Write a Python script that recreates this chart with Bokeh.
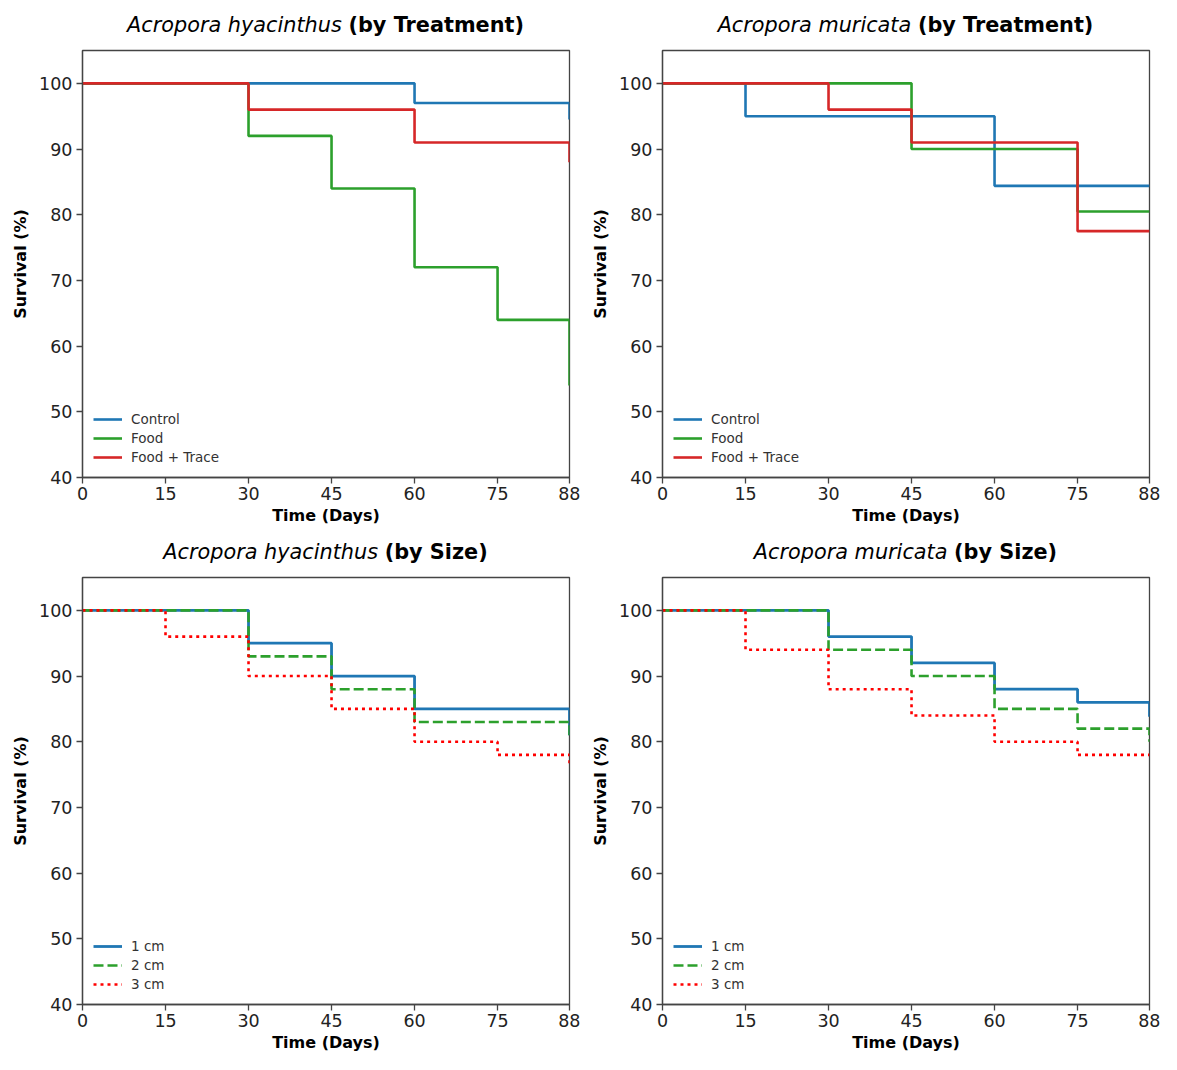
from bokeh.plotting import figure
from bokeh.layouts import column, row
from bokeh.models import FixedTicker, Div
from bokeh.embed import file_html
from bokeh.resources import INLINE

# ---------------- data ----------------
times = [0, 15, 30, 45, 60, 75, 88]
x_ticks = [0, 15, 30, 45, 60, 75, 88]
y_ticks = [40, 50, 60, 70, 80, 90, 100]

treatment_labels = ["Control", "Food", "Food + Trace"]
size_labels = ["1 cm", "2 cm", "3 cm"]

hya_control = [100, 100, 100, 100, 97, 97, 94.5]
hya_food = [100, 100, 92, 84, 72, 64, 54]
hya_food_trace = [100, 100, 96, 96, 91, 91, 88]

mur_control = [100, 95, 95, 95, 84.4, 84.4, 84.4]
mur_food = [100, 100, 100, 90, 90, 80.5, 80.5]
mur_food_trace = [100, 100, 96, 91, 91, 77.5, 77.5]

hya_1cm = [100, 100, 95, 90, 85, 85, 81]
hya_2cm = [100, 100, 93, 88, 83, 83, 80.7]
hya_3cm = [100, 96, 90, 85, 80, 78, 76.6]

mur_1cm = [100, 100, 96, 92, 88, 86, 83.8]
mur_2cm = [100, 100, 94, 90, 85, 82, 80]
mur_3cm = [100, 94, 88, 84, 80, 78, 78]

species = ["Acropora hyacinthus", "Acropora muricata"]
suffixes = ["(by Treatment)", "(by Size)"]

# ---------------- styling ----------------
FONT = "DejaVu Sans"
FRAME_W, FRAME_H = 487, 427
BORDER_L, BORDER_R = 82, 11
TITLE_H, BORDER_T, BORDER_B = 42, 8, 50
X_RANGE = (0, 88)
Y_RANGE = (40, 105)

treat_styles = [("#1f77b4", None), ("#2ca02c", None), ("#d62728", None)]
size_styles = [("#1f77b4", None), ("#2ca02c", "10 4"), ("#ff0000", "3 4")]


def make_panel(sp, suffix, series, labels, styles, lw):
    p = figure(frame_width=FRAME_W, frame_height=FRAME_H, x_range=X_RANGE, y_range=Y_RANGE,
               output_backend="svg", toolbar_location=None, tools="",
               min_border_left=BORDER_L, min_border_right=BORDER_R,
               min_border_top=BORDER_T, min_border_bottom=BORDER_B,
               background_fill_color="white", border_fill_color="white")
    p.grid.visible = False
    p.outline_line_color = "#444444"
    p.outline_line_width = 1.3

    for vals, lab, (col, dash), w in zip(series, labels, styles, lw):
        kw = dict(line_color=col, line_width=w, legend_label=lab)
        if dash:
            kw["line_dash"] = dash
        p.step(times, vals, mode="after", **kw)

    p.xaxis.ticker = FixedTicker(ticks=x_ticks)
    p.yaxis.ticker = FixedTicker(ticks=y_ticks)
    p.xaxis.axis_label = "Time (Days)"
    p.yaxis.axis_label = "Survival (%)"
    for ax in (p.xaxis, p.yaxis):
        ax.axis_label_text_font = FONT
        ax.axis_label_text_font_style = "bold"
        ax.axis_label_text_font_size = "16px"
        ax.axis_label_text_color = "black"
        ax.major_label_text_font = FONT
        ax.major_label_text_font_size = "17.5px"
        ax.major_label_text_color = "#222222"
        ax.major_tick_in = 0
        ax.major_tick_out = 6
        ax.minor_tick_in = 0
        ax.minor_tick_out = 0
        ax.axis_line_color = "#444444"
        ax.axis_line_width = 1.3
        ax.major_tick_line_color = "#444444"
        ax.major_tick_line_width = 1.3
        ax.major_label_standoff = 4
    p.xaxis.major_label_standoff = 3
    p.xaxis.axis_label_standoff = 3
    p.yaxis.axis_label_standoff = 6

    lg = p.legend[0]
    lg.location = (6, 7)
    lg.border_line_alpha = 0
    lg.background_fill_alpha = 0
    lg.label_text_font = FONT
    lg.label_text_font_size = "13.5px"
    lg.label_text_color = "#333333"
    lg.glyph_width = 29
    lg.glyph_height = 16
    lg.label_height = 16
    lg.spacing = 3
    lg.padding = 5
    lg.margin = 0
    lg.label_standoff = 9

    total_w = BORDER_L + FRAME_W + BORDER_R
    title_html = (
        f'<div style="margin:0; padding-top:13px; margin-left:{BORDER_L}px; width:{FRAME_W}px; '
        f'text-align:center; white-space:nowrap; font-family:\'DejaVu Sans\'; font-size:20.8px; '
        f'line-height:25px; color:black;">'
        f'<span style="font-style:italic;">{sp}</span> '
        f'<span style="font-weight:bold;">{suffix}</span></div>'
    )
    title = Div(text=title_html, width=total_w, height=TITLE_H, margin=(0, 0, 0, 0))
    return column(title, p, spacing=0)


p1 = make_panel(species[0], suffixes[0], [hya_control, hya_food, hya_food_trace],
                treatment_labels, treat_styles, [2.6, 2.6, 2.6])
p2 = make_panel(species[1], suffixes[0], [mur_control, mur_food, mur_food_trace],
                treatment_labels, treat_styles, [2.6, 2.6, 2.6])
p3 = make_panel(species[0], suffixes[1], [hya_1cm, hya_2cm, hya_3cm],
                size_labels, size_styles, [2.8, 2.6, 2.6])
p4 = make_panel(species[1], suffixes[1], [mur_1cm, mur_2cm, mur_3cm],
                size_labels, size_styles, [2.8, 2.6, 2.6])

layout = column(row(p1, p2, spacing=0), row(p3, p4, spacing=0), spacing=0)
open("out.html", "w").write(file_html(layout, INLINE))
